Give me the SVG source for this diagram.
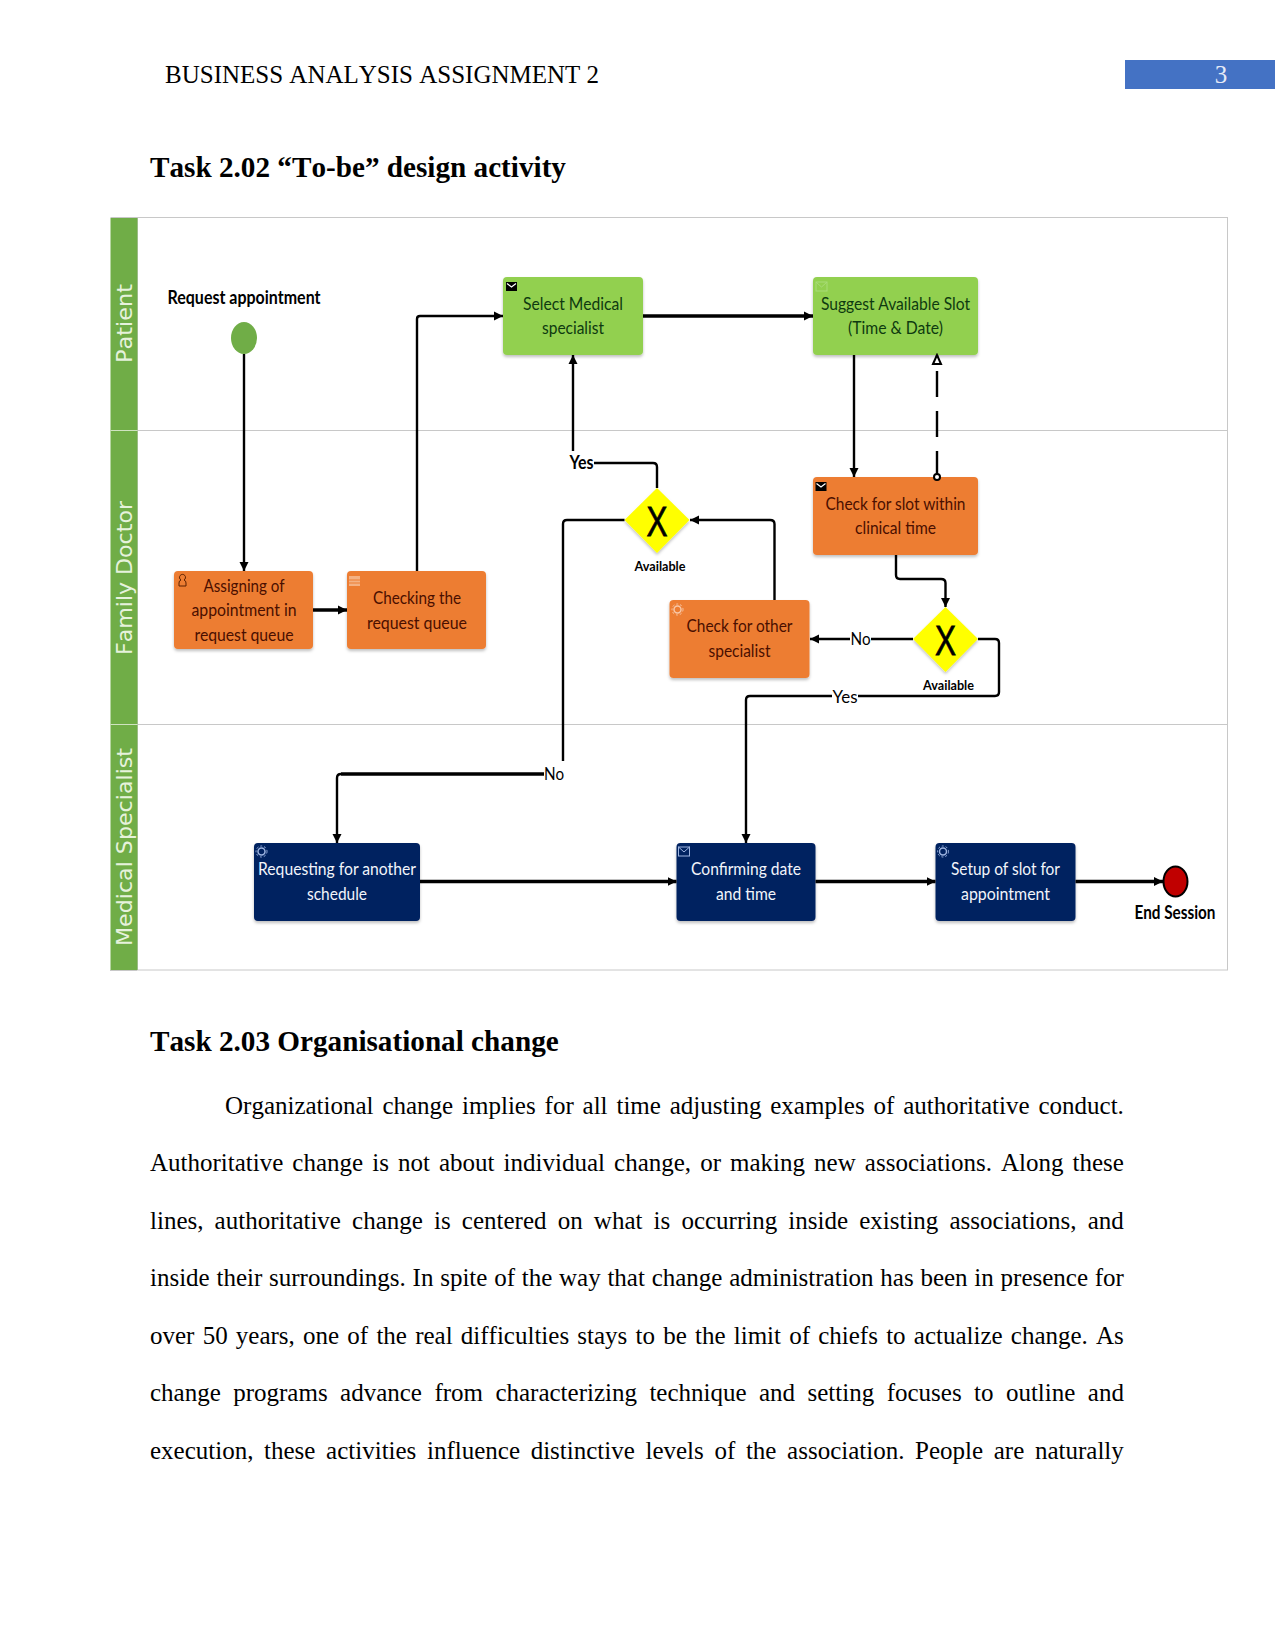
<svg xmlns="http://www.w3.org/2000/svg" width="1275" height="1650" viewBox="0 0 1275 1650">
<style>
text{font-family:"Liberation Serif","Times New Roman",serif;fill:#000;font-kerning:none}
.body{font-size:25px}
.h{font-size:29.2px;font-weight:bold}
.lane{font-family:"DejaVu Sans","Open Sans",sans-serif;font-size:22px;fill:#e6f2dc;text-anchor:middle}
.t,.b,.lb,.sm{font-family:Lato,"Liberation Sans",sans-serif;text-anchor:middle;font-kerning:normal}
.t{font-size:18px;fill:#1a1a1a}
.o{fill:#4a0f00}
.g{fill:#0e3a10}
.w{fill:#f2f5fb}
.lb{font-size:18px;font-weight:bold}
.n{font-weight:normal}
.sm{font-size:14px;font-weight:bold}
.x{font-family:"Liberation Sans",sans-serif;font-size:43px;text-anchor:middle;stroke:#000;stroke-width:.8}
.task{filter:url(#sh)}
.gr{fill:#92d050}.or{fill:#ed7d31}.bl{fill:#002060}
.dia{fill:#ffff00;stroke:none;filter:url(#sh)}
.c{fill:none;stroke:#000;stroke-width:2.4}
.k{stroke-width:3.6}
.r{fill:none;stroke:#c8c8c8;stroke-width:1}
</style>
<defs>
<filter id="sh" x="-10%" y="-10%" width="120%" height="125%"><feDropShadow dx="0" dy="2" stdDeviation="1.5" flood-color="#000" flood-opacity=".25"/></filter>
<marker id="a" markerUnits="userSpaceOnUse" markerWidth="11" markerHeight="11" refX="9" refY="5.500" orient="auto"><path d="M0 1L9 5.500L0 10Z" fill="#000"/></marker>
<marker id="h" markerUnits="userSpaceOnUse" markerWidth="12" markerHeight="12" refX="10" refY="6" orient="auto"><path d="M1 2L10 6L1 10Z" fill="#fff" stroke="#000" stroke-width="2"/></marker>
<marker id="o" markerUnits="userSpaceOnUse" markerWidth="10" markerHeight="10" refX="5" refY="5" orient="auto"><circle cx="5" cy="5" r="3" fill="#fff" stroke="#000" stroke-width="2"/></marker>
<g id="env"><rect x="0" y="0" width="11" height="9" fill="#000"/><path d="M1 1.500L5.500 5L10 1.500" fill="none" stroke="#fff" stroke-width="1.2"/></g>
<g id="envo"><rect x="0" y="0" width="11" height="9" fill="none" stroke="currentColor"/><path d="M0 0L5.500 5L11 0" fill="none" stroke="currentColor"/></g>
<g id="gear"><circle cx="5.500" cy="5.500" r="3.500" fill="none" stroke="currentColor" stroke-width="1.500"/><circle cx="5.500" cy="5.500" r="5.500" fill="none" stroke="currentColor" stroke-dasharray="2 2"/></g>
</defs>

<g id="page-header">
<rect x="1125" y="60" width="150" height="29" fill="#4472c4"/>
<text class="body" x="165" y="83">BUSINESS ANALYSIS ASSIGNMENT 2</text>
<text class="body" x="1221" y="83" text-anchor="middle" style="fill:#e6ebf7">3</text>
</g>
<text class="h" x="150" y="177">Task 2.02 “To-be” design activity</text>

<g id="lanes">
<rect x="137.500" y="217.500" width="1090" height="752.500" fill="#fff" class="r"/>
<rect x="110.500" y="218" width="27" height="752" fill="#70ad47"/>
<path d="M110.500 430.500H137.500M110.500 724.500H137.500" stroke="#cfe3c0" stroke-width="1" fill="none"/>
<path d="M137.500 430.500H1227.500M137.500 724.500H1227.500M110 970.500H137M110.500 217.500H137" class="r"/>
<text class="lane" transform="translate(132,323.500) rotate(-90)" textLength="79" lengthAdjust="spacingAndGlyphs">Patient</text>
<text class="lane" transform="translate(132,578) rotate(-90)" textLength="154" lengthAdjust="spacingAndGlyphs">Family Doctor</text>
<text class="lane" transform="translate(132,847) rotate(-90)" textLength="198" lengthAdjust="spacingAndGlyphs">Medical Specialist</text>
</g>

<g id="start">
<ellipse cx="244" cy="338" rx="13" ry="16" fill="#70ad47"/>
<text class="lb" x="244" y="304" textLength="153" lengthAdjust="spacingAndGlyphs">Request appointment</text>
</g>
<g id="select-medical">
<rect class="task gr" x="503" y="277" width="140" height="78" rx="4"/>
<use href="#env" x="506" y="282"/>
<text class="t g" x="573" y="310" textLength="100" lengthAdjust="spacingAndGlyphs">Select Medical</text>
<text class="t g" x="573" y="334" textLength="62" lengthAdjust="spacingAndGlyphs">specialist</text>
</g>
<g id="suggest-slot">
<rect class="task gr" x="813" y="277" width="165" height="78" rx="4"/>
<use href="#envo" x="816" y="282" color="#a8dc78"/>
<text class="t g" x="895.500" y="310" textLength="149" lengthAdjust="spacingAndGlyphs">Suggest Available Slot</text>
<text class="t g" x="895.500" y="334" textLength="95" lengthAdjust="spacingAndGlyphs">(Time &amp; Date)</text>
</g>
<g id="check-slot">
<rect class="task or" x="813" y="477" width="165" height="78" rx="4"/>
<use href="#env" x="815.500" y="482"/>
<text class="t o" x="895.500" y="510" textLength="140" lengthAdjust="spacingAndGlyphs">Check for slot within</text>
<text class="t o" x="895.500" y="534" textLength="81" lengthAdjust="spacingAndGlyphs">clinical time</text>
</g>
<g id="assigning">
<rect class="task or" x="174" y="571" width="139" height="78" rx="4"/>
<path d="M179 586v-3a3 3 0 0 1 2-3a3 3 0 1 1 3 0a3 3 0 0 1 2 3v3z" fill="none" stroke="#5a2000"/>
<text class="t o" x="244" y="592" textLength="81" lengthAdjust="spacingAndGlyphs">Assigning of</text>
<text class="t o" x="244" y="616" textLength="105" lengthAdjust="spacingAndGlyphs">appointment in</text>
<text class="t o" x="244" y="641" textLength="99" lengthAdjust="spacingAndGlyphs">request queue</text>
</g>
<g id="checking">
<rect class="task or" x="347" y="571" width="139" height="78" rx="4"/>
<rect x="349" y="576" width="11" height="10" fill="#f4b183"/>
<path d="M349 580H360M349 583H360" stroke="#ed7d31"/>
<text class="t o" x="417" y="604" textLength="88" lengthAdjust="spacingAndGlyphs">Checking the</text>
<text class="t o" x="417" y="629" textLength="100" lengthAdjust="spacingAndGlyphs">request queue</text>
</g>
<g id="check-other">
<rect class="task or" x="669.500" y="600" width="140" height="78" rx="4"/>
<use href="#gear" x="672" y="604" color="#f8c8a8"/>
<text class="t o" x="739.500" y="632" textLength="106" lengthAdjust="spacingAndGlyphs">Check for other</text>
<text class="t o" x="739.500" y="657" textLength="62" lengthAdjust="spacingAndGlyphs">specialist</text>
</g>
<g id="gateway-1">
<path class="dia" d="M657 488L689.500 520L657 553L624.500 520Z"/>
<text class="x" x="657" y="535.500" textLength="21" lengthAdjust="spacingAndGlyphs">X</text>
<text class="sm" x="660" y="571" textLength="51" lengthAdjust="spacingAndGlyphs">Available</text>
</g>
<g id="gateway-2">
<path class="dia" d="M945.500 607L978 639L945.500 672L913 639Z"/>
<text class="x" x="945.500" y="655" textLength="21" lengthAdjust="spacingAndGlyphs">X</text>
<text class="sm" x="948.500" y="690" textLength="51" lengthAdjust="spacingAndGlyphs">Available</text>
</g>
<g id="requesting">
<rect class="task bl" x="254" y="843" width="166" height="78" rx="4"/>
<use href="#gear" x="256" y="846" color="#9db4e0"/>
<text class="t w" x="337" y="875" textLength="158" lengthAdjust="spacingAndGlyphs">Requesting for another</text>
<text class="t w" x="337" y="900" textLength="60" lengthAdjust="spacingAndGlyphs">schedule</text>
</g>
<g id="confirming">
<rect class="task bl" x="676.500" y="843" width="139" height="78" rx="4"/>
<use href="#envo" x="678.500" y="847" color="#9db4e0"/>
<text class="t w" x="746" y="875" textLength="110" lengthAdjust="spacingAndGlyphs">Confirming date</text>
<text class="t w" x="746" y="900" textLength="60" lengthAdjust="spacingAndGlyphs">and time</text>
</g>
<g id="setup">
<rect class="task bl" x="935.500" y="843" width="140" height="78" rx="4"/>
<use href="#gear" x="937.500" y="846" color="#9db4e0"/>
<text class="t w" x="1005.500" y="875" textLength="109" lengthAdjust="spacingAndGlyphs">Setup of slot for</text>
<text class="t w" x="1005.500" y="900" textLength="89" lengthAdjust="spacingAndGlyphs">appointment</text>
</g>
<g id="end">
<ellipse cx="1175.500" cy="881.500" rx="12" ry="15" fill="#c00000" stroke="#000" stroke-width="2"/>
<text class="lb" x="1175" y="919" textLength="81" lengthAdjust="spacingAndGlyphs">End Session</text>
</g>

<g id="connectors">
<path class="c" d="M244 354V571" marker-end="url(#a)"/>
<path class="c k" d="M313 610H347" marker-end="url(#a)"/>
<path class="c" d="M417 571V319Q417 316 420 316H503" marker-end="url(#a)"/>
<path class="c k" d="M643 316H813" marker-end="url(#a)"/>
<path class="c" d="M854 355V477" marker-end="url(#a)"/>
<path class="c" d="M937 477V355" stroke-dasharray="26 14" marker-start="url(#o)" marker-end="url(#h)"/>
<path class="c" d="M896 555V575Q896 579 900 579H941Q945.500 579 945.500 583V607" marker-end="url(#a)"/>
<path class="c" d="M913 639H871M850 639H810" marker-end="url(#a)"/>
<path class="c" d="M978 639H995Q999 639 999 643V692Q999 696 995 696H858M832 696H750Q746 696 746 700V843" marker-end="url(#a)"/>
<path class="c" d="M774.500 600V524Q774.500 520 770 520H690" marker-end="url(#a)"/>
<path class="c" d="M657 488V467Q657 463 653 463H594"/>
<path class="c" d="M573 451V355" marker-end="url(#a)"/>
<path class="c" d="M624.500 520H567Q563 520 563 524V761"/>
<path class="c k" d="M544 774H341"/>
<path class="c" d="M341 774Q337 774 337 778V843" marker-end="url(#a)"/>
<path class="c k" d="M420 881.500H676.500" marker-end="url(#a)"/>
<path class="c k" d="M815.500 881.500H935.500" marker-end="url(#a)"/>
<path class="c k" d="M1075.500 881.500H1163" marker-end="url(#a)"/>
<text class="lb" x="581.500" y="469" textLength="24" lengthAdjust="spacingAndGlyphs">Yes</text>
<text class="lb n" x="845" y="703" textLength="25" lengthAdjust="spacingAndGlyphs">Yes</text>
<text class="lb n" x="860.500" y="645" textLength="20" lengthAdjust="spacingAndGlyphs">No</text>
<text class="lb n" x="554" y="780" textLength="20" lengthAdjust="spacingAndGlyphs">No</text>
</g>

<text class="h" x="150" y="1051">Task 2.03 Organisational change</text>
<g id="body-text">
<text class="body" x="225" y="1114" word-spacing="2.62">Organizational change implies for all time adjusting examples of authoritative conduct.</text>
<text class="body" x="150" y="1171" word-spacing="2.82">Authoritative change is not about individual change, or making new associations. Along these</text>
<text class="body" x="150" y="1229" word-spacing="4.9">lines, authoritative change is centered on what is occurring inside existing associations, and</text>
<text class="body" x="150" y="1286" word-spacing="0.5">inside their surroundings. In spite of the way that change administration has been in presence for</text>
<text class="body" x="150" y="1344" word-spacing="1.96">over 50 years, one of the real difficulties stays to be the limit of chiefs to actualize change. As</text>
<text class="body" x="150" y="1401" word-spacing="6.18">change programs advance from characterizing technique and setting focuses to outline and</text>
<text class="body" x="150" y="1459" word-spacing="4.4">execution, these activities influence distinctive levels of the association. People are naturally</text>
</g>
</svg>
